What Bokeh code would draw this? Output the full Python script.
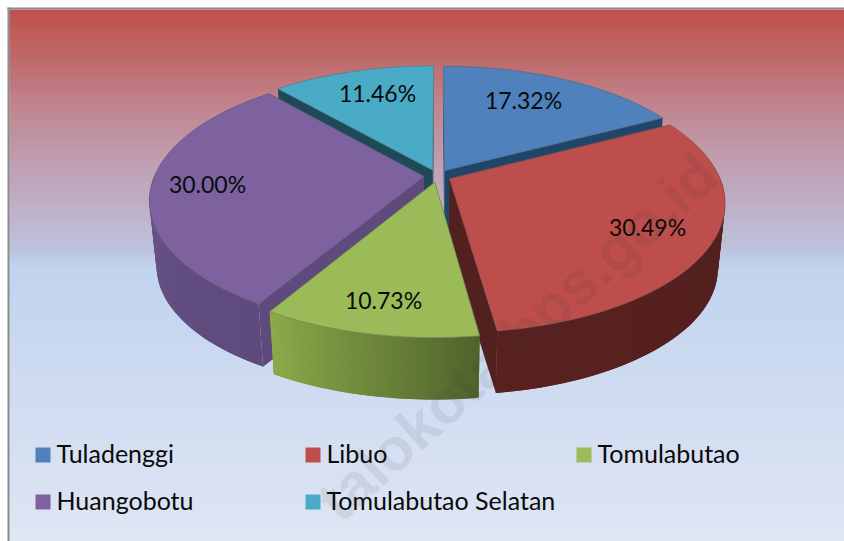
import numpy as np
from bokeh.plotting import figure
from bokeh.models import Range1d
from bokeh.core.properties import value
from bokeh.embed import file_html
from bokeh.resources import INLINE

categories = ["Tuladenggi", "Libuo", "Tomulabutao", "Huangobotu", "Tomulabutao Selatan"]
shares = [17.32, 30.49, 10.73, 30.00, 11.46]
top_colors = ["#4F81BD", "#BD4E4B", "#9BBB59", "#7E62A0", "#49ABC6"]
wall_colors = ["#1F4668", "#52201E", "#4F672C", "#5E4A7C", "#1E4A57"]
rim_start = ["#2A4A70", "#4F1F1D", "#4F642C", "#5E4A7C", "#256070"]
rim_end = ["#3A6390", "#582120", "#8CAA4A", "#705893", "#2F7488"]

# layout of the projected pie (pixels on the page)
CX, CY, R, H, K = 437.0, 175.5, 269.5, 125.0, 0.1795
EXPLODE, SHRINK, DROP = 0.05, 0.975, 66.0

p = figure(width=844, height=541, output_backend="svg", toolbar_location=None,
           x_range=Range1d(0, 844), y_range=Range1d(541, 0),
           min_border=0, outline_line_color=None)
p.xaxis.visible = False
p.yaxis.visible = False
p.grid.visible = False
p.background_fill_color = "white"
p.border_fill_color = "white"

# background gradient as overlapping strips
stops_y = [9, 50, 100, 150, 200, 250, 267, 400, 541]
stops_c = [(192, 80, 77), (190, 101, 100), (192, 130, 138), (191, 154, 170),
           (191, 173, 196), (189, 195, 222), (193, 211, 238), (208, 220, 241), (223, 230, 244)]
ys = np.arange(9, 541, 2)
cols = []
for y in ys:
    c = [np.interp(y + 1, stops_y, [s[i] for s in stops_c]) for i in range(3)]
    cols.append("#%02x%02x%02x" % tuple(int(round(v)) for v in c))
p.quad(left=9, right=844, top=ys, bottom=ys + 4, fill_color=cols, line_color=None)
p.quad(left=7, right=9, top=7, bottom=541, fill_color="#8A8A8A", line_color=None)
p.quad(left=7, right=844, top=7, bottom=9, fill_color="#8A8A8A", line_color=None)


def project(u, v, bottom=False):
    w = 1 - K * v
    x, y = CX + R * u / w, CY + H * v / w
    if bottom:
        x = CX + (x - CX) * SHRINK
        y = CY + (y - CY) * SHRINK + DROP
    return x, y


def slice_points(a0, a1, e, bottom=False, n=80):
    m = (a0 + a1) / 2
    ou, ov = e * np.sin(m), -e * np.cos(m)
    t = np.linspace(a0, a1, n)
    return project(ou + np.sin(t), ov - np.cos(t), bottom), project(ou, ov, bottom)


def hexmix(a, b, f):
    ca = [int(a[i:i + 2], 16) for i in (1, 3, 5)]
    cb = [int(b[i:i + 2], 16) for i in (1, 3, 5)]
    return "#%02x%02x%02x" % tuple(int(round(x + (y - x) * f)) for x, y in zip(ca, cb))


frac = np.array(shares) / sum(shares) * 2 * np.pi
ends = np.cumsum(frac)
starts = ends - frac


def draw_slice(i):
    a0, a1 = starts[i], ends[i]
    (tx, ty), (ax, ay) = slice_points(a0, a1, EXPLODE)
    (bx, by), (dx, dy) = slice_points(a0, a1, EXPLODE, bottom=True)
    # radial walls
    for j in (0, -1):
        p.patch([ax, tx[j], bx[j], dx], [ay, ty[j], by[j], dy],
                fill_color=wall_colors[i], line_color=None)
    # outer wall in small shaded pieces, each overlapped by the next one
    n = len(tx)
    for j in range(n - 1):
        if ty[j] < CY and ty[j + 1] < CY:
            continue
        k = min(j + 2, n - 1)
        p.patch([tx[j], tx[k], bx[k], bx[j]], [ty[j], ty[k], by[k], by[j]],
                fill_color=hexmix(rim_start[i], rim_end[i], j / (n - 2)), line_color=None)
    # top face
    p.patch([ax, *tx], [ay, *ty], fill_color=top_colors[i],
            line_color=hexmix(top_colors[i], "#555555", 0.5), line_width=0.8)


for i in (0, 4, 3, 1, 2):
    draw_slice(i)

# data labels
label_xy = [(523, 99), (647, 226), (383, 299), (207, 183), (377, 92)]
labels = ["%.2f%%" % s for s in shares]
p.text(x=[q[0] for q in label_xy], y=[q[1] for q in label_xy], text=labels,
       text_font=value("Lato"), text_font_size="23px", text_color="#0A0A0A",
       text_align="center", text_baseline="middle")

# legend
leg_x = [35, 305, 576, 35, 305]
leg_y = [447, 447, 447, 494, 494]
p.quad(left=leg_x, right=[v + 15 for v in leg_x], top=leg_y, bottom=[v + 15 for v in leg_y],
       fill_color=top_colors, line_color=None)
p.text(x=[v + 21 for v in leg_x], y=[v + 5 for v in leg_y], text=categories,
       text_font=value("Lato"), text_font_size="25px", text_color="#0A0A0A",
       text_align="left", text_baseline="middle")

# watermark
p.text(x=[517], y=[337], text=["talokota.bps.go.id"], angle=[42], angle_units="deg",
       text_font=value("Liberation Sans"), text_font_style="bold", text_font_size="60px",
       text_color="#333333", text_alpha=0.09, text_align="center", text_baseline="middle")

open("out.html", "w").write(file_html(p, INLINE))
